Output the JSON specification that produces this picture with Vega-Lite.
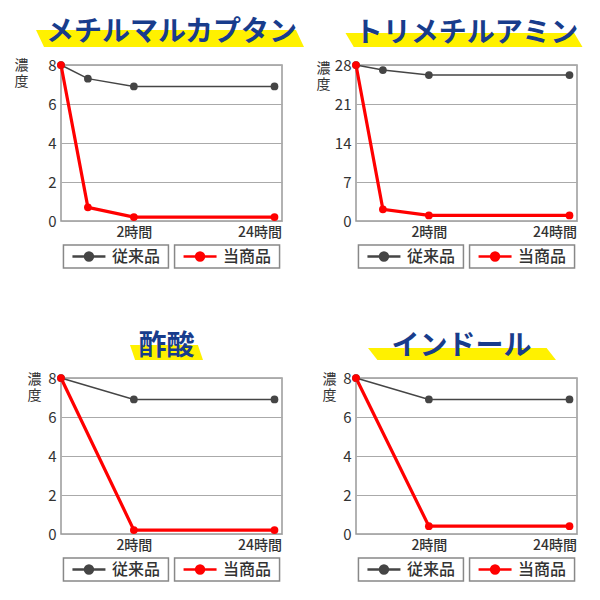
{
  "$schema": "https://vega.github.io/schema/vega-lite/v6.json",
  "padding": {"left": 13, "top": 11, "right": 5, "bottom": 5},
  "background": "white",
  "datasets": {
    "mm": [
      {"series": "従来品", "hours": 0, "value": 8},
      {"series": "従来品", "hours": 0.5, "value": 7.3},
      {"series": "従来品", "hours": 2, "value": 6.9},
      {"series": "従来品", "hours": 24, "value": 6.9},
      {"series": "当商品", "hours": 0, "value": 8},
      {"series": "当商品", "hours": 0.5, "value": 0.7},
      {"series": "当商品", "hours": 2, "value": 0.2},
      {"series": "当商品", "hours": 24, "value": 0.2}
    ],
    "tm": [
      {"series": "従来品", "hours": 0, "value": 28},
      {"series": "従来品", "hours": 0.5, "value": 27.1},
      {"series": "従来品", "hours": 2, "value": 26.2},
      {"series": "従来品", "hours": 24, "value": 26.2},
      {"series": "当商品", "hours": 0, "value": 28},
      {"series": "当商品", "hours": 0.5, "value": 2.1},
      {"series": "当商品", "hours": 2, "value": 1.0},
      {"series": "当商品", "hours": 24, "value": 1.0}
    ],
    "sa": [
      {"series": "従来品", "hours": 0, "value": 8},
      {"series": "従来品", "hours": 2, "value": 6.9},
      {"series": "従来品", "hours": 24, "value": 6.9},
      {"series": "当商品", "hours": 0, "value": 8},
      {"series": "当商品", "hours": 2, "value": 0.2},
      {"series": "当商品", "hours": 24, "value": 0.2}
    ],
    "ind": [
      {"series": "従来品", "hours": 0, "value": 8},
      {"series": "従来品", "hours": 2, "value": 6.9},
      {"series": "従来品", "hours": 24, "value": 6.9},
      {"series": "当商品", "hours": 0, "value": 8},
      {"series": "当商品", "hours": 2, "value": 0.4},
      {"series": "当商品", "hours": 24, "value": 0.4}
    ],
    "legend": [
      {"series": "従来品"},
      {"series": "当商品"}
    ]
  },
  "columns": 2,
  "spacing": {"row": 24, "column": 74},
  "bounds": "flush",
  "resolve": {"scale": {"x": "independent", "y": "independent", "color": "independent", "stroke": "independent", "strokeWidth": "independent"}},
  "concat": [
    {
      "width": 221, "height": 30,
      "view": {"stroke": null},
      "data": {"values": [{"name": "メチルマルカプタン"}]},
      "layer": [
        {"mark": {"type": "point", "shape": "M-1,-0.063L0.94,-0.063L1,0.063L-0.94,0.063Z", "size": 71824, "filled": true, "color": "#fff100", "opacity": 1, "strokeWidth": 0, "xOffset": -1.5, "yOffset": 12.5}, "encoding": {}},
        {"mark": {"type": "text", "fontSize": 28, "fontWeight": "bold", "color": "#183c8c", "yOffset": 7}, "encoding": {"text": {"field": "name"}}}
      ]
    },
    {
      "width": 221, "height": 30,
      "view": {"stroke": null},
      "data": {"values": [{"name": "トリメチルアミン"}]},
      "layer": [
        {"mark": {"type": "point", "shape": "M-1,-0.059L0.93,-0.059L1,0.059L-0.93,0.059Z", "size": 56169, "filled": true, "color": "#fff100", "opacity": 1, "strokeWidth": 0, "xOffset": -2.5, "yOffset": 14}, "encoding": {}},
        {"mark": {"type": "text", "fontSize": 28, "fontWeight": "bold", "color": "#183c8c", "yOffset": 8}, "encoding": {"text": {"field": "name"}}}
      ]
    },
    {
      "width": 221, "height": 156,
      "view": {"stroke": "#999", "strokeWidth": 1.5},
      "data": {"name": "mm"},
      "encoding": {
        "x": {"field": "hours", "type": "quantitative", "title": null, "scale": {"type": "symlog", "constant": 1, "domain": [0, 27], "nice": false}, "axis": {"values": [2, 24], "labelExpr": "datum.value + '時間'", "labelFlush": 12, "labelFlushOffset": 7}},
        "y": {"field": "value", "type": "quantitative", "title": ["濃", "度"], "scale": {"domain": [0, 8], "nice": false}, "axis": {"values": [0, 2, 4, 6, 8], "titleX": -40, "titleY": -7}},
        "color": {"field": "series", "type": "nominal", "scale": {"domain": ["従来品", "当商品"], "range": ["#454545", "#ff0000"]}, "legend": null}
      },
      "layer": [
        {"mark": {"type": "line"}, "encoding": {"strokeWidth": {"field": "series", "type": "nominal", "scale": {"domain": ["従来品", "当商品"], "range": [1.5, 3.2]}, "legend": null}}},
        {"mark": {"type": "point", "filled": true, "size": 60, "opacity": 1}}
      ]
    },
    {
      "width": 221, "height": 156,
      "view": {"stroke": "#999", "strokeWidth": 1.5},
      "data": {"name": "tm"},
      "encoding": {
        "x": {"field": "hours", "type": "quantitative", "title": null, "scale": {"type": "symlog", "constant": 1, "domain": [0, 27], "nice": false}, "axis": {"values": [2, 24], "labelExpr": "datum.value + '時間'", "labelFlush": 12, "labelFlushOffset": 7}},
        "y": {"field": "value", "type": "quantitative", "title": ["濃", "度"], "scale": {"domain": [0, 28], "nice": false}, "axis": {"values": [0, 7, 14, 21, 28], "titleX": -33, "titleY": -4}},
        "color": {"field": "series", "type": "nominal", "scale": {"domain": ["従来品", "当商品"], "range": ["#454545", "#ff0000"]}, "legend": null}
      },
      "layer": [
        {"mark": {"type": "line"}, "encoding": {"strokeWidth": {"field": "series", "type": "nominal", "scale": {"domain": ["従来品", "当商品"], "range": [1.5, 3.2]}, "legend": null}}},
        {"mark": {"type": "point", "filled": true, "size": 60, "opacity": 1}}
      ]
    },
    {
      "width": 221, "height": 23,
      "view": {"stroke": null},
      "data": {"name": "legend"},
      "encoding": {"x": {"field": "series", "type": "nominal", "sort": ["従来品", "当商品"], "scale": {"paddingInner": 0.055, "paddingOuter": 0.022}, "axis": null}},
      "layer": [
        {"mark": {"type": "rect", "fill": "white", "stroke": "#888", "strokeWidth": 1.5}},
        {"mark": {"type": "point", "shape": "M-1,0L1,0M-0.24,0A0.24,0.24,0,1,0,0.24,0A0.24,0.24,0,1,0,-0.24,0Z", "size": 1089, "filled": true, "opacity": 1, "strokeWidth": 2.5, "xOffset": -27},
         "encoding": {"color": {"field": "series", "type": "nominal", "scale": {"domain": ["従来品", "当商品"], "range": ["#454545", "#ff0000"]}, "legend": null}, "stroke": {"field": "series", "type": "nominal", "scale": {"domain": ["従来品", "当商品"], "range": ["#454545", "#ff0000"]}, "legend": null}}},
        {"mark": {"type": "text", "fontSize": 16, "fontWeight": 500, "color": "#333", "xOffset": 20}, "encoding": {"text": {"field": "series"}}}
      ]
    },
    {
      "width": 221, "height": 23,
      "view": {"stroke": null},
      "data": {"name": "legend"},
      "encoding": {"x": {"field": "series", "type": "nominal", "sort": ["従来品", "当商品"], "scale": {"paddingInner": 0.055, "paddingOuter": 0.022}, "axis": null}},
      "layer": [
        {"mark": {"type": "rect", "fill": "white", "stroke": "#888", "strokeWidth": 1.5}},
        {"mark": {"type": "point", "shape": "M-1,0L1,0M-0.24,0A0.24,0.24,0,1,0,0.24,0A0.24,0.24,0,1,0,-0.24,0Z", "size": 1089, "filled": true, "opacity": 1, "strokeWidth": 2.5, "xOffset": -27},
         "encoding": {"color": {"field": "series", "type": "nominal", "scale": {"domain": ["従来品", "当商品"], "range": ["#454545", "#ff0000"]}, "legend": null}, "stroke": {"field": "series", "type": "nominal", "scale": {"domain": ["従来品", "当商品"], "range": ["#454545", "#ff0000"]}, "legend": null}}},
        {"mark": {"type": "text", "fontSize": 16, "fontWeight": 500, "color": "#333", "xOffset": 20}, "encoding": {"text": {"field": "series"}}}
      ]
    },
    {
      "width": 221, "height": 62,
      "view": {"stroke": null},
      "data": {"values": [{"name": "酢酸"}]},
      "layer": [
        {"mark": {"type": "point", "shape": "M-1,-0.205L0.86,-0.205L1,0.205L-0.86,0.205Z", "size": 5329, "filled": true, "color": "#fff100", "opacity": 1, "strokeWidth": 0, "xOffset": -5, "yOffset": 29.5}, "encoding": {}},
        {"mark": {"type": "text", "fontSize": 28, "fontWeight": "bold", "color": "#183c8c", "xOffset": -5, "yOffset": 24}, "encoding": {"text": {"field": "name"}}}
      ]
    },
    {
      "width": 221, "height": 62,
      "view": {"stroke": null},
      "data": {"values": [{"name": "インドール"}]},
      "layer": [
        {"mark": {"type": "point", "shape": "M-1,-0.064L0.9,-0.064L1,0.064L-0.9,0.064Z", "size": 35344, "filled": true, "color": "#fff100", "opacity": 1, "strokeWidth": 0, "xOffset": -4.5, "yOffset": 31}, "encoding": {}},
        {"mark": {"type": "text", "fontSize": 28, "fontWeight": "bold", "color": "#183c8c", "xOffset": -5, "yOffset": 24}, "encoding": {"text": {"field": "name"}}}
      ]
    },
    {
      "width": 221, "height": 156,
      "view": {"stroke": "#999", "strokeWidth": 1.5},
      "data": {"name": "sa"},
      "encoding": {
        "x": {"field": "hours", "type": "quantitative", "title": null, "scale": {"type": "symlog", "constant": 1, "domain": [0, 27], "nice": false}, "axis": {"values": [2, 24], "labelExpr": "datum.value + '時間'", "labelFlush": 12, "labelFlushOffset": 7}},
        "y": {"field": "value", "type": "quantitative", "title": ["濃", "度"], "scale": {"domain": [0, 8], "nice": false}, "axis": {"values": [0, 2, 4, 6, 8], "titleX": -27, "titleY": -6}},
        "color": {"field": "series", "type": "nominal", "scale": {"domain": ["従来品", "当商品"], "range": ["#454545", "#ff0000"]}, "legend": null}
      },
      "layer": [
        {"mark": {"type": "line"}, "encoding": {"strokeWidth": {"field": "series", "type": "nominal", "scale": {"domain": ["従来品", "当商品"], "range": [1.5, 3.2]}, "legend": null}}},
        {"mark": {"type": "point", "filled": true, "size": 60, "opacity": 1}}
      ]
    },
    {
      "width": 221, "height": 156,
      "view": {"stroke": "#999", "strokeWidth": 1.5},
      "data": {"name": "ind"},
      "encoding": {
        "x": {"field": "hours", "type": "quantitative", "title": null, "scale": {"type": "symlog", "constant": 1, "domain": [0, 27], "nice": false}, "axis": {"values": [2, 24], "labelExpr": "datum.value + '時間'", "labelFlush": 12, "labelFlushOffset": 7}},
        "y": {"field": "value", "type": "quantitative", "title": ["濃", "度"], "scale": {"domain": [0, 8], "nice": false}, "axis": {"values": [0, 2, 4, 6, 8], "titleX": -27, "titleY": -6}},
        "color": {"field": "series", "type": "nominal", "scale": {"domain": ["従来品", "当商品"], "range": ["#454545", "#ff0000"]}, "legend": null}
      },
      "layer": [
        {"mark": {"type": "line"}, "encoding": {"strokeWidth": {"field": "series", "type": "nominal", "scale": {"domain": ["従来品", "当商品"], "range": [1.5, 3.2]}, "legend": null}}},
        {"mark": {"type": "point", "filled": true, "size": 60, "opacity": 1}}
      ]
    },
    {
      "width": 221, "height": 23,
      "view": {"stroke": null},
      "data": {"name": "legend"},
      "encoding": {"x": {"field": "series", "type": "nominal", "sort": ["従来品", "当商品"], "scale": {"paddingInner": 0.055, "paddingOuter": 0.022}, "axis": null}},
      "layer": [
        {"mark": {"type": "rect", "fill": "white", "stroke": "#888", "strokeWidth": 1.5}},
        {"mark": {"type": "point", "shape": "M-1,0L1,0M-0.24,0A0.24,0.24,0,1,0,0.24,0A0.24,0.24,0,1,0,-0.24,0Z", "size": 1089, "filled": true, "opacity": 1, "strokeWidth": 2.5, "xOffset": -27},
         "encoding": {"color": {"field": "series", "type": "nominal", "scale": {"domain": ["従来品", "当商品"], "range": ["#454545", "#ff0000"]}, "legend": null}, "stroke": {"field": "series", "type": "nominal", "scale": {"domain": ["従来品", "当商品"], "range": ["#454545", "#ff0000"]}, "legend": null}}},
        {"mark": {"type": "text", "fontSize": 16, "fontWeight": 500, "color": "#333", "xOffset": 20}, "encoding": {"text": {"field": "series"}}}
      ]
    },
    {
      "width": 221, "height": 23,
      "view": {"stroke": null},
      "data": {"name": "legend"},
      "encoding": {"x": {"field": "series", "type": "nominal", "sort": ["従来品", "当商品"], "scale": {"paddingInner": 0.055, "paddingOuter": 0.022}, "axis": null}},
      "layer": [
        {"mark": {"type": "rect", "fill": "white", "stroke": "#888", "strokeWidth": 1.5}},
        {"mark": {"type": "point", "shape": "M-1,0L1,0M-0.24,0A0.24,0.24,0,1,0,0.24,0A0.24,0.24,0,1,0,-0.24,0Z", "size": 1089, "filled": true, "opacity": 1, "strokeWidth": 2.5, "xOffset": -27},
         "encoding": {"color": {"field": "series", "type": "nominal", "scale": {"domain": ["従来品", "当商品"], "range": ["#454545", "#ff0000"]}, "legend": null}, "stroke": {"field": "series", "type": "nominal", "scale": {"domain": ["従来品", "当商品"], "range": ["#454545", "#ff0000"]}, "legend": null}}},
        {"mark": {"type": "text", "fontSize": 16, "fontWeight": 500, "color": "#333", "xOffset": 20}, "encoding": {"text": {"field": "series"}}}
      ]
    }
  ],
  "config": {
    "font": "Noto Sans CJK JP",
    "axisX": {"grid": false, "ticks": false, "domain": false, "labelFontSize": 14, "labelFontWeight": 500, "labelColor": "#333", "labelPadding": 4},
    "axisY": {"ticks": false, "domain": false, "gridColor": "#aaa", "gridWidth": 1.2, "labelFontSize": 15, "labelColor": "#333", "labelPadding": 5, "titleAngle": 0, "titleAlign": "center", "titleBaseline": "top", "titleFontSize": 14, "titleFontWeight": "normal", "titleColor": "#333", "titleLineHeight": 16}
  }
}
